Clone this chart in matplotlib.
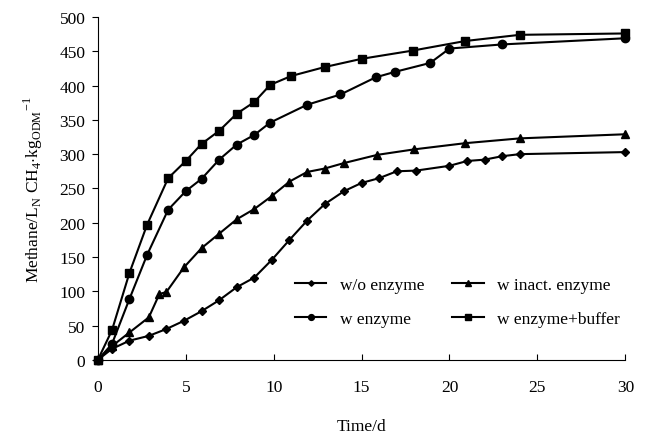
import matplotlib
matplotlib.use("Agg")
import matplotlib.pyplot as plt

plt.rcParams["font.family"] = ["Liberation Serif", "DejaVu Serif"]
plt.rcParams["mathtext.fontset"] = "custom"
plt.rcParams["mathtext.rm"] = "Liberation Serif"

# w/o enzyme (diamonds)
t_wo = [0, 0.8, 1.8, 2.9, 3.9, 4.9, 5.9, 6.9, 7.9, 8.9, 9.9, 10.9, 11.9, 12.9,
        14, 15, 16, 17, 18.1, 20, 21, 22, 23, 24, 30]
v_wo = [0, 16, 28, 35, 45, 57, 71, 87, 106, 120, 146, 175, 203, 227,
        246, 258, 265, 275, 276, 283, 290, 292, 297, 300, 303]

# w inact. enzyme (triangles)
t_in = [0, 0.8, 1.8, 2.9, 3.5, 3.9, 4.9, 5.9, 6.9, 7.9, 8.9, 9.9, 10.9, 11.9,
        12.9, 14, 15.9, 18, 20.9, 24, 30]
v_in = [0, 20, 40, 62, 96, 99, 135, 163, 184, 205, 220, 239, 260, 274,
        279, 287, 299, 307, 316, 323, 329]

# w enzyme (circles)
t_en = [0, 0.8, 1.8, 2.8, 4.0, 5.0, 5.9, 6.9, 7.9, 8.9, 9.8, 11.9, 13.8,
        15.8, 16.9, 18.9, 20, 23, 30]
v_en = [0, 23, 89, 153, 219, 246, 264, 292, 314, 328, 346, 372, 387,
        412, 420, 433, 454, 460, 469]

# w enzyme+buffer (squares)
t_bu = [0, 0.8, 1.8, 2.8, 4.0, 5.0, 5.9, 6.9, 7.9, 8.9, 9.8, 11, 12.9,
        15, 17.9, 20.9, 24, 30]
v_bu = [0, 43, 127, 197, 265, 290, 315, 334, 359, 376, 401, 414, 427,
        439, 451, 465, 474, 476]

fig = plt.figure(figsize=(6.48, 4.39), dpi=100)
ax = fig.add_axes([0.151, 0.178, 0.814, 0.781])

kw = dict(color="black", linewidth=1.5, clip_on=False)
l1, = ax.plot(t_wo, v_wo, marker="D", markersize=4, label="w/o enzyme", **kw)
l2, = ax.plot(t_in, v_in, marker="^", markersize=6, label="w inact. enzyme", **kw)
l3, = ax.plot(t_en, v_en, marker="o", markersize=6, label="w enzyme", **kw)
l4, = ax.plot(t_bu, v_bu, marker="s", markersize=6, label="w enzyme+buffer", **kw)

ax.set_xlim(0, 30)
ax.set_ylim(0, 500)
ax.set_xticks(range(0, 31, 5))
ax.set_yticks(range(0, 501, 50))
ax.spines["top"].set_visible(False)
ax.spines["right"].set_visible(False)
ax.tick_params(axis="x", direction="in", length=4, labelsize=12.5, pad=14)
ax.tick_params(axis="y", direction="out", length=4, labelsize=12.5, pad=5)

ax.set_xlabel("Time/d", fontsize=12.5, labelpad=16)
ax.set_ylabel(r"Methane/L$_\mathregular{N}$ CH$_\mathregular{4}$$\cdot$kg$_\mathregular{ODM}$$^\mathregular{-1}$",
              fontsize=12.5, labelpad=10)

ax.legend(handles=[l1, l3, l2, l4], ncol=2, frameon=False, fontsize=12.5,
          loc="lower right", bbox_to_anchor=(1.02, 0.05), handlelength=1.8,
          columnspacing=1.6, labelspacing=1.05, markerscale=0.7)

fig.savefig("out.png", dpi=100)
